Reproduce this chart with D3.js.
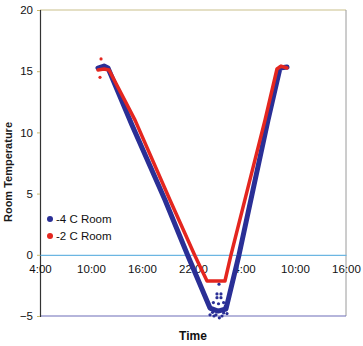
<!DOCTYPE html>
<html>
<head>
<meta charset="utf-8">
<script src="https://cdn.jsdelivr.net/npm/d3@7"></script>
<style>
  html, body { margin: 0; padding: 0; background: #fff; }
  svg { display: block; font-family: "Liberation Sans", Arial, sans-serif; }
</style>
</head>
<body>
<svg id="chart" width="363" height="346"></svg>
<script>
// Time is in hours from midnight of day one (28 = 4:00 next day)
const xTicks = [4, 10, 16, 22, 28, 34, 40];
const yTicks = [-5, 0, 5, 10, 15, 20];

// -4 C room trace
const coldTime = [10.82, 11.53, 12.0, 14.82, 18.71, 21.41, 24.0, 24.94, 25.88, 27.41, 30.82, 32.24, 33.06];
const coldTemp = [15.26, 15.42, 15.26, 10.6, 4.48, -0.1, -4.35, -4.6, -4.43, -0.02, 11.0, 15.26, 15.34];
// scattered -4 C readings near the minimum
const coldScatterTime = [25.06, 24.82, 25.29, 24.82, 25.29, 24.47, 25.41, 24.7, 25.1, 24.3, 25.6, 24.0, 26.0, 24.4, 25.6, 25.0, 25.8];
const coldScatterTemp = [-2.4, -3.2, -3.2, -3.5, -3.5, -5.0, -5.0, -4.9, -5.15, -4.7, -4.75, -4.9, -4.8, -3.9, -3.9, -4.0, -4.2];

// -2 C room trace
const warmTime = [10.82, 11.53, 12.12, 15.18, 19.29, 22.24, 23.65, 25.76, 26.47, 30.47, 31.88, 32.35, 33.06];
const warmTemp = [15.1, 15.18, 15.1, 11.0, 4.48, -0.1, -2.14, -2.14, 0, 11.0, 15.18, 15.42, 15.26];
const warmScatterTime = [11.18, 11.06];
const warmScatterTemp = [16.0, 14.5];

const seriesNames = ["-4 C Room", "-2 C Room"];
const seriesColors = ["#2a2f96", "#e4261f"];

const svg = d3.select("#chart");
const plotLeft = 40, plotRight = 346, plotTop = 10, plotBottom = 316;

const x = d3.scaleLinear().domain([4, 40]).range([plotLeft, plotRight]);
const y = d3.scaleLinear().domain([-5, 20]).range([plotBottom, plotTop]);

// plot frame
svg.append("line").attr("x1", plotLeft).attr("x2", plotRight).attr("y1", plotTop).attr("y2", plotTop)
  .attr("stroke", "#c9bf8a").attr("stroke-width", 1);
svg.append("line").attr("x1", plotRight).attr("x2", plotRight).attr("y1", plotTop).attr("y2", plotBottom)
  .attr("stroke", "#9a9a9a").attr("stroke-width", 1);
svg.append("line").attr("x1", plotLeft).attr("x2", plotRight).attr("y1", plotBottom).attr("y2", plotBottom)
  .attr("stroke", "#6d6db8").attr("stroke-width", 1.2);

// y axis
const yAxis = d3.axisLeft(y).tickValues(yTicks).tickSize(3).tickPadding(4);
const gy = svg.append("g").attr("transform", `translate(${plotLeft},0)`).call(yAxis);
gy.select(".domain").attr("stroke", "#333").attr("stroke-width", 1.2);
gy.selectAll(".tick line").attr("stroke", "#c9b96a");
gy.selectAll(".tick text").attr("font-size", 11.5).attr("fill", "#111")
  .attr("font-family", "Liberation Sans, Arial, sans-serif");

// x axis drawn on the zero line, labels below it
const xAxis = d3.axisBottom(x).tickValues(xTicks).tickSize(0).tickPadding(10)
  .tickFormat(d => (d % 24) + ":00");
const gx = svg.append("g").attr("transform", `translate(0,${y(0)})`).call(xAxis);
gx.select(".domain").attr("stroke", "#6cb6e2").attr("stroke-width", 1.2);
gx.selectAll(".tick text").attr("font-size", 11.5).attr("fill", "#111")
  .attr("font-family", "Liberation Sans, Arial, sans-serif");

// traces
const line = d3.line().x(d => x(d[0])).y(d => y(d[1]));
const coldPts = coldTime.map((t, i) => [t, coldTemp[i]]);
const warmPts = warmTime.map((t, i) => [t, warmTemp[i]]);

svg.append("path").datum(coldPts).attr("d", line)
  .attr("fill", "none").attr("stroke", seriesColors[0])
  .attr("stroke-width", 5).attr("stroke-linejoin", "round").attr("stroke-linecap", "round");
svg.selectAll("circle.cold").data(coldScatterTime.map((t, i) => [t, coldScatterTemp[i]]))
  .enter().append("circle").attr("class", "cold")
  .attr("cx", d => x(d[0])).attr("cy", d => y(d[1])).attr("r", 1.6)
  .attr("fill", seriesColors[0]);

svg.append("path").datum(warmPts).attr("d", line)
  .attr("fill", "none").attr("stroke", seriesColors[1])
  .attr("stroke-width", 3.5).attr("stroke-linejoin", "round").attr("stroke-linecap", "round");
svg.selectAll("circle.warm").data(warmScatterTime.map((t, i) => [t, warmScatterTemp[i]]))
  .enter().append("circle").attr("class", "warm")
  .attr("cx", d => x(d[0])).attr("cy", d => y(d[1])).attr("r", 1.6)
  .attr("fill", seriesColors[1]);

// legend
const legend = svg.append("g").attr("transform", "translate(50,219)");
seriesNames.forEach((name, i) => {
  const g = legend.append("g").attr("transform", `translate(0,${i * 17})`);
  g.append("circle").attr("r", 3).attr("fill", seriesColors[i]);
  g.append("text").attr("x", 6).attr("dy", "0.35em").attr("font-size", 11.5)
    .attr("fill", "#111").text(name);
});

// axis titles
svg.append("text").attr("x", 193).attr("y", 340).attr("text-anchor", "middle")
  .attr("font-size", 12).attr("font-weight", "bold").attr("fill", "#111").text("Time");
svg.append("text").attr("transform", "translate(12,172) rotate(-90)")
  .attr("text-anchor", "middle").attr("font-size", 11).attr("font-weight", "bold")
  .attr("fill", "#1a1a1a").text("Room Temperature");
</script>
</body>
</html>
